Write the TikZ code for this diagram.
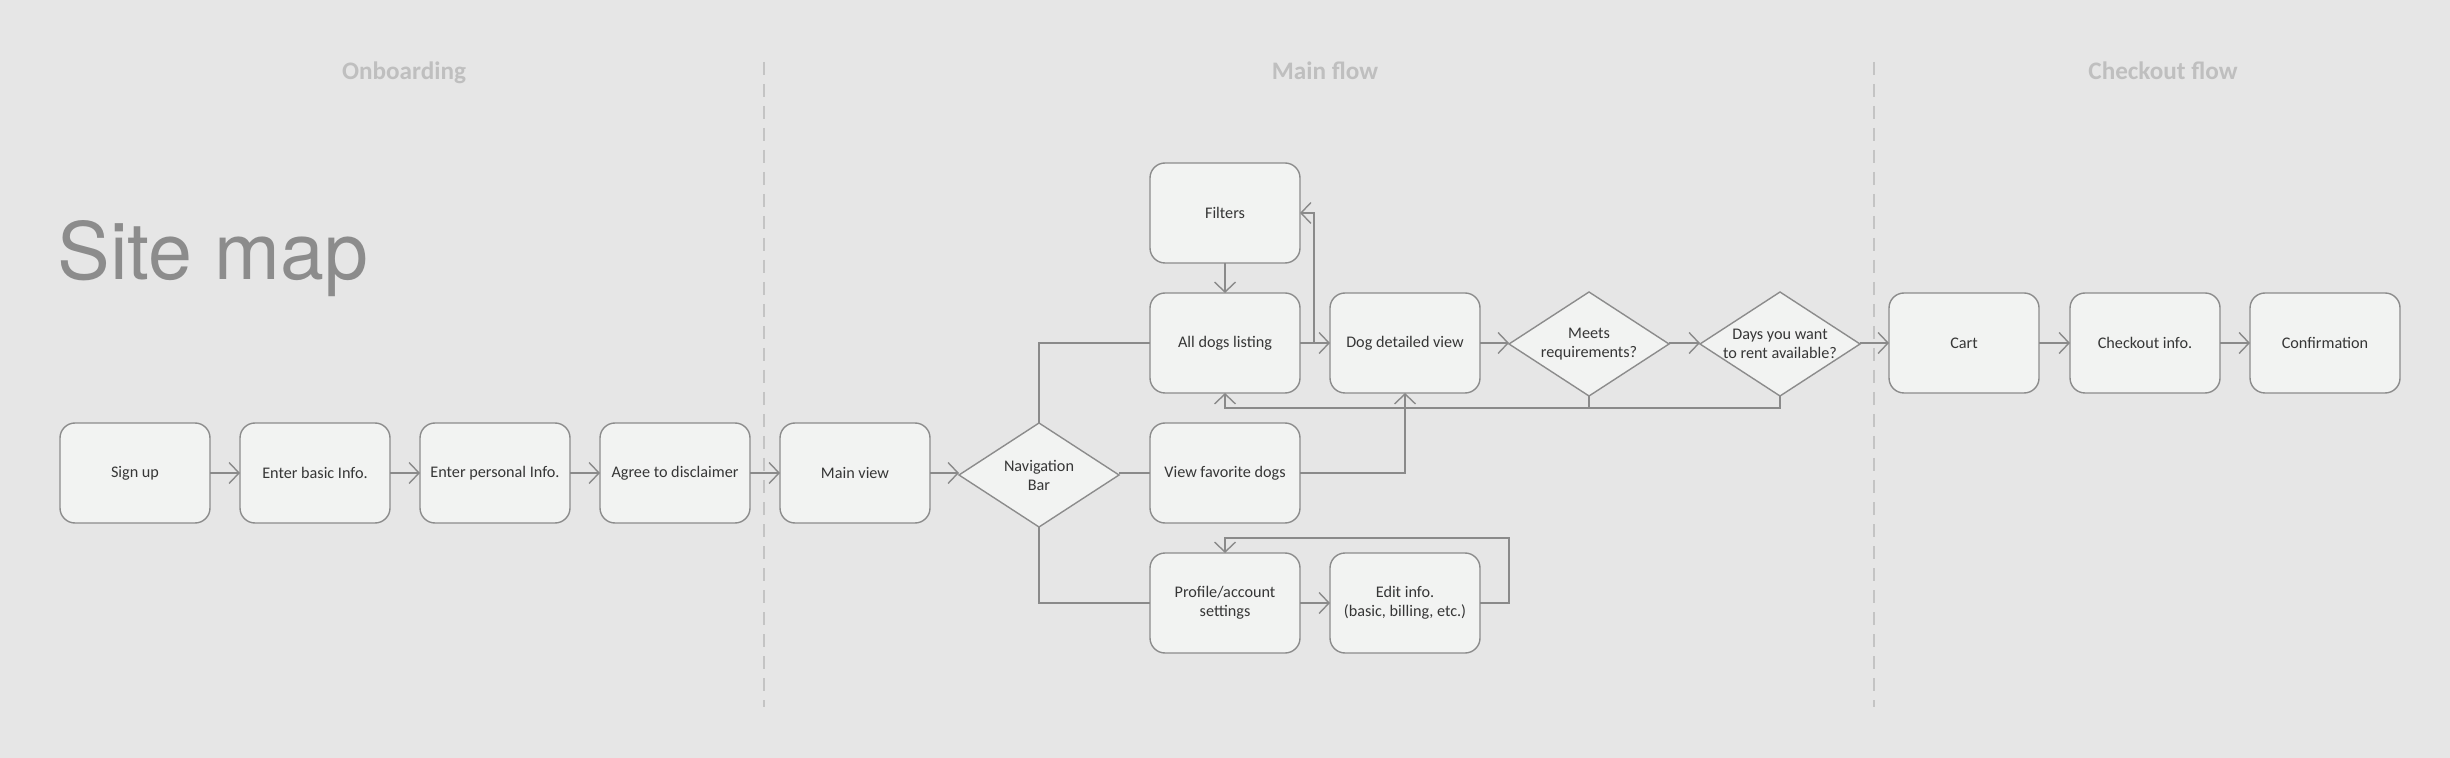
\documentclass[tikz,border=0pt]{standalone}
\usepackage{fontspec}
\setmainfont{Carlito}
\newfontfamily\titlefont{TeX Gyre Heros}
\usetikzlibrary{arrows.meta,shapes.geometric}
\definecolor{bgc}{HTML}{E6E6E6}
\definecolor{boxfill}{HTML}{F2F3F2}
\definecolor{boxline}{HTML}{8C8C8C}
\definecolor{lnc}{HTML}{8A8A8A}
\definecolor{txt}{HTML}{363636}
\definecolor{headc}{HTML}{BFBFBF}
\definecolor{sepc}{HTML}{C4C4C4}
\definecolor{titlec}{HTML}{8C8C8C}
\begin{document}
\begin{tikzpicture}[x=0.5pt,y=-0.5pt,
  box/.style={draw=boxline, fill=boxfill, rounded corners=7.5pt, minimum width=75pt, minimum height=50pt, inner sep=0pt, outer sep=0pt, line width=0.7pt, font=\fontsize{8.1}{9.5}\selectfont, text=txt, align=center},
  dia/.style={diamond, draw=boxline, fill=boxfill, minimum width=80pt, minimum height=52pt, inner sep=0pt, outer sep=0pt, line width=0.7pt},
  dlabel/.style={font=\fontsize{8.1}{9.5}\selectfont, text=txt, align=center, inner sep=0pt},
  conn/.style={draw=lnc, line width=0.7pt},
  arr/.style={conn, -{Straight Barb[length=5pt,width=10.5pt]}},
  hdr/.style={font=\bfseries\fontsize{12.6}{14}\selectfont, text=headc, anchor=base, inner sep=0pt},
  sepline/.style={draw=sepc, line width=1pt, dash pattern=on 6.5pt off 4.5pt}
]
\fill[bgc] (0,0) rectangle (2450,758);
\useasboundingbox (0,0) rectangle (2450,758);

% headers
\node[hdr] (h1) at (404,80) {Onboarding};
\node[hdr] (h2) at (1325,80) {Main flow};
\node[hdr] (h3) at (2163,80) {Checkout flow};

% title
\node[anchor=base west, inner sep=0pt, text=titlec, font=\titlefont\fontsize{39.5}{41}\selectfont] (title) at (57,280) {Site map};

% separators
\draw[sepline] (764,62) -- (764,707);
\draw[sepline] (1874,62) -- (1874,707);

% onboarding
\node[box] (signup) at (135,473) {Sign up};
\node[box] (basic) at (315,473) {Enter basic Info.};
\node[box] (personal) at (495,473) {Enter personal Info.};
\node[box] (agree) at (675,473) {Agree to disclaimer};

% main flow
\node[box] (mainview) at (855,473) {Main view};
\node[dia, label={[dlabel]center:Navigation\\Bar}] (nav) at (1039,475) {};
\node[box] (filters) at (1225,213) {Filters};
\node[box] (alldogs) at (1225,343) {All dogs listing};
\node[box] (fav) at (1225,473) {View favorite dogs};
\node[box] (profile) at (1225,603) {Profile/account\\settings};
\node[box] (detail) at (1405,343) {Dog detailed view};
\node[box] (edit) at (1405,603) {Edit info.\\(basic, billing, etc.)};
\node[dia, label={[dlabel]center:Meets\\requirements?}] (meets) at (1589,344) {};
\node[dia, label={[dlabel]center:Days you want\\to rent available?}] (days) at (1780,344) {};

% checkout
\node[box] (cart) at (1964,343) {Cart};
\node[box] (checkout) at (2145,343) {Checkout info.};
\node[box] (confirm) at (2325,343) {Confirmation};

% connectors
\draw[arr] (signup) -- (basic);
\draw[arr] (basic) -- (personal);
\draw[arr] (personal) -- (agree);
\draw[arr] (agree) -- (mainview);
\draw[arr] (mainview.east) -- (nav.west |- mainview.east);
\draw[conn] (nav.north) |- (alldogs.west);
\draw[conn] (nav.east |- fav.west) -- (fav.west);
\draw[conn] (nav.south) |- (profile.west);
\draw[arr] (filters) -- (alldogs);
\draw[arr] (alldogs) -- (detail);
\coordinate (br) at (1314,343);
\draw[arr] (br) |- (filters.east);
\draw[arr] (fav.east) -| (detail.south);
\coordinate (rl) at (0,408);
\draw[arr] (days.south) -- (days.south |- rl) -- (alldogs.south |- rl) -- (alldogs.south);
\draw[conn] (meets.south) -- (meets.south |- rl);
\draw[arr] (profile) -- (edit);
\coordinate (lp) at (1509,538);
\draw[arr] (edit.east) -| (lp) -| (profile.north);
\draw[arr] (detail.east) -- (meets.west |- detail.east);
\draw[arr] (meets.east |- detail.east) -- (days.west |- detail.east);
\draw[arr] (days.east |- cart.west) -- (cart.west);
\draw[arr] (cart) -- (checkout);
\draw[arr] (checkout) -- (confirm);
\end{tikzpicture}
\end{document}
